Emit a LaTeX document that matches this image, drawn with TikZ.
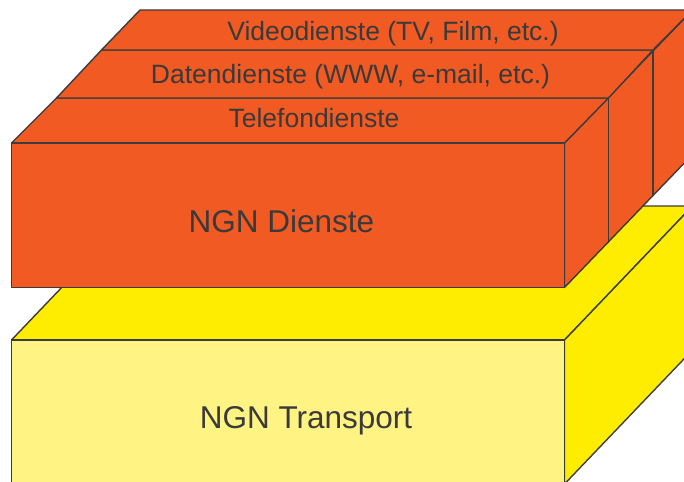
\documentclass[tikz,border=0pt]{standalone}
\usepackage{fontspec}
\setmainfont{Liberation Sans}
\definecolor{ngnorange}{HTML}{F15A22}
\definecolor{ngnyellow}{HTML}{FFED00}
\definecolor{ngnlight}{HTML}{FFF383}
\definecolor{edgegray}{HTML}{3C3C3C}
\definecolor{textgray}{HTML}{3A3A3A}

\begin{document}
\begin{tikzpicture}[x=1pt,y=-1pt,line width=1.4pt,line join=round,
  face/.style={draw=edgegray},
  slabtext/.style={inner sep=0pt,anchor=base,text=textgray,font=\fontsize{26.5}{31}\selectfont},
  bigtext/.style={slabtext,font=\fontsize{31.5}{36}\selectfont}]
  \useasboundingbox (0,0) rectangle (684,481);
  \clip (0,0) rectangle (684,481);
  % NGN Transport
  \filldraw[face,fill=ngnyellow] (11.5,340) -- (139.5,206) -- (692.5,206) -- (564.5,340) -- cycle;
  \filldraw[face,fill=ngnyellow] (564.5,340) -- (692.5,206) -- (692.5,350) -- (564.5,484) -- cycle;
  \filldraw[face,fill=ngnlight] (11.5,340) rectangle (564.5,484);
  % NGN Dienste
  \filldraw[face,fill=ngnorange] (564.5,143) -- (692.5,10) -- (692.5,154.5) -- (564.5,287.5) -- cycle;
  \draw[face] (608.5,98) -- (608.5,242.5);
  \draw[face] (653,50) -- (653,194.5);
  \filldraw[face,fill=ngnorange] (11.5,143) -- (56.5,98) -- (608.5,98) -- (564.5,143) -- cycle;
  \filldraw[face,fill=ngnorange] (56.5,98) -- (101.5,50) -- (653,50) -- (608.5,98) -- cycle;
  \filldraw[face,fill=ngnorange] (101.5,50) -- (140,10) -- (692.5,10) -- (653,50) -- cycle;
  \filldraw[face,fill=ngnorange] (11.5,143) rectangle (564.5,287.5);
  \node[slabtext] (video)   at (393,41)    {Videodienste (TV, Film, etc.)};
  \node[slabtext] (daten)   at (350.5,83.3) {Datendienste (WWW, e-mail, etc.)};
  \node[slabtext] (telefon) at (314,128)   {Telefondienste};
  \node[bigtext]  (dienste) at (281.5,232.7) {NGN Dienste};
  \node[bigtext]  (transport) at (306,428.3) {NGN Transport};
\end{tikzpicture}
\end{document}
